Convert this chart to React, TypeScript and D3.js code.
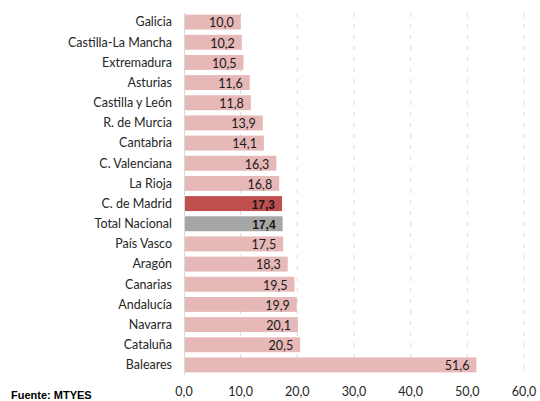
import React, { useEffect, useRef } from "react";
import * as d3 from "d3";

const regions = [
  "Galicia", "Castilla-La Mancha", "Extremadura", "Asturias", "Castilla y León",
  "R. de Murcia", "Cantabria", "C. Valenciana", "La Rioja", "C. de Madrid",
  "Total Nacional", "País Vasco", "Aragón", "Canarias", "Andalucía",
  "Navarra", "Cataluña", "Baleares",
];
const values = [10.0, 10.2, 10.5, 11.6, 11.8, 13.9, 14.1, 16.3, 16.8, 17.3, 17.4, 17.5, 18.3, 19.5, 19.9, 20.1, 20.5, 51.6];
const xTicks = [0, 10, 20, 30, 40, 50, 60];
const source = "Fuente: MTYES";

const width = 540;
const height = 401;

function App() {
  const ref = useRef<SVGSVGElement>(null);

  useEffect(() => {
    const svg = d3.select(ref.current);
    svg.selectAll("*").remove();

    const x = d3.scaleLinear().domain([0, 60]).range([184, 524]);
    const y = d3.scaleBand().domain(regions).range([12, 375]).paddingInner(0.26).paddingOuter(0.13);
    const fmt = (v: number) => d3.format(".1f")(v).replace(".", ",");
    const font = "Lato, 'Open Sans', sans-serif";
    const isBold = (d: string) => d === "C. de Madrid" || d === "Total Nacional";

    const colorOf = (name: string) =>
      name === "C. de Madrid" ? "#C0504D" : name === "Total Nacional" ? "#A6A6A6" : "#E6B8B7";

    // grid lines
    svg.append("g")
      .selectAll("line")
      .data(xTicks.slice(1))
      .join("line")
      .attr("x1", d => x(d))
      .attr("x2", d => x(d))
      .attr("y1", 13)
      .attr("y2", 374)
      .attr("stroke", "#D9D9D9")
      .attr("stroke-width", 1)
      .attr("stroke-dasharray", "4,7");

    // bars
    svg.append("g")
      .selectAll("rect")
      .data(regions)
      .join("rect")
      .attr("x", x(0) + 1)
      .attr("y", d => y(d)!)
      .attr("width", (d, i) => x(values[i]) - x(0) - 1)
      .attr("height", y.bandwidth())
      .attr("fill", d => colorOf(d));

    // axis line
    svg.append("line")
      .attr("x1", x(0) + 0.5).attr("x2", x(0) + 0.5)
      .attr("y1", 13).attr("y2", 375)
      .attr("stroke", "#D9D9D9");

    // category labels
    svg.append("g")
      .selectAll("text")
      .data(regions)
      .join("text")
      .attr("x", 172)
      .attr("y", d => y(d)! + y.bandwidth() / 2)
      .attr("dy", "0.35em")
      .attr("text-anchor", "end")
      .attr("font-family", font)
      .attr("font-size", 12.5)
      .attr("fill", "#262626")
      .text(d => d);

    // value labels
    svg.append("g")
      .selectAll("text")
      .data(regions)
      .join("text")
      .attr("x", (d, i) => x(values[i]) - 7)
      .attr("y", d => y(d)! + y.bandwidth() / 2 + 1)
      .attr("dy", "0.35em")
      .attr("text-anchor", "end")
      .attr("font-family", d => isBold(d) ? "'Liberation Sans', Arial, sans-serif" : font)
      .attr("font-size", d => isBold(d) ? 12 : 12.5)
      .attr("font-weight", d => isBold(d) ? "bold" : "normal")
      .attr("fill", "#1a1a1a")
      .text((d, i) => fmt(values[i]));

    // x tick labels
    svg.append("g")
      .selectAll("text")
      .data(xTicks)
      .join("text")
      .attr("x", d => x(d))
      .attr("y", 396)
      .attr("text-anchor", "middle")
      .attr("font-family", font)
      .attr("font-size", 12.5)
      .attr("fill", "#262626")
      .text(d => fmt(d));

    svg.append("text")
      .attr("x", 11)
      .attr("y", 399)
      .attr("font-family", "Arial, 'Liberation Sans', sans-serif")
      .attr("font-size", 11)
      .attr("font-weight", "bold")
      .attr("fill", "#000")
      .text(source);
  }, []);

  return (
    <svg
      ref={ref}
      width={width}
      height={height}
      style={{ position: "absolute", left: 0, top: 0, display: "block", background: "#fff" }}
    />
  );
}

export default App;
